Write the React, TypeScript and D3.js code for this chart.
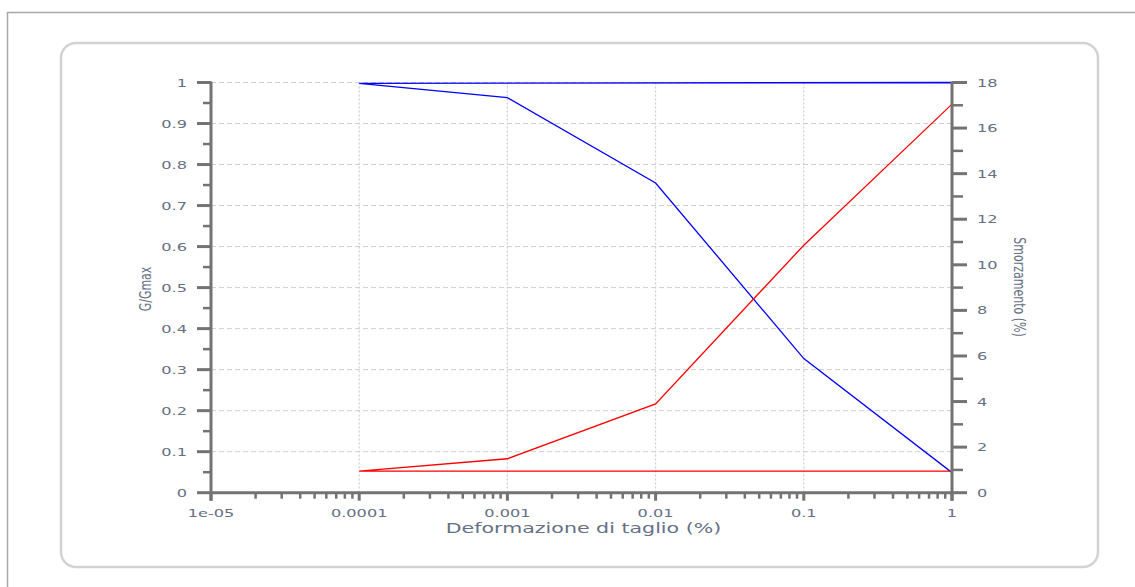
import React from "react";
import * as d3 from "d3";

const strain = [0.0001, 0.001, 0.01, 0.1, 1];
const gGmax = [0.998, 0.963, 0.755, 0.327, 0.049];
const damping = [0.95, 1.49, 3.9, 10.86, 17.05];
const gUpperAtEnd = 1;
const dampingLowerAtEnd = 0.95;

const xTickValues = [1e-5, 1e-4, 1e-3, 1e-2, 1e-1, 1];
const xTickLabels = ["1e-05", "0.0001", "0.001", "0.01", "0.1", "1"];
const leftTicks = [0, 0.1, 0.2, 0.3, 0.4, 0.5, 0.6, 0.7, 0.8, 0.9, 1];
const leftTickLabels = ["0", "0.1", "0.2", "0.3", "0.4", "0.5", "0.6", "0.7", "0.8", "0.9", "1"];
const rightTicks = [0, 2, 4, 6, 8, 10, 12, 14, 16, 18];

const W = 1135;
const H = 587;
const SX = 1.47;
const FONT = "'DejaVu Sans', Verdana, sans-serif";
const TXT = "#667085";
const AX = "#737373";

export default function App() {
  const x = d3.scaleLog().domain([1e-5, 1]).range([211, 952]);
  const yL = d3.scaleLinear().domain([0, 1]).range([492.7, 82.5]);
  const yR = d3.scaleLinear().domain([0, 18]).range([492.7, 82.5]);

  const minorX: number[] = [];
  for (let e = -5; e < 0; e++) {
    for (let m = 2; m <= 9; m++) minorX.push(m * Math.pow(10, e));
  }
  const minorL = d3.range(0, 1.0001, 0.05).filter((v) => Math.round(v * 100) % 10 !== 0);
  const minorR = d3.range(1, 18, 2);

  const blueLine = d3
    .line<[number, number]>()
    .x((d) => x(d[0]))
    .y((d) => yL(d[1]));
  const redLine = d3
    .line<[number, number]>()
    .x((d) => x(d[0]))
    .y((d) => yR(d[1]));

  const bluePts: [number, number][] = strain.map((s, i) => [s, gGmax[i]]);
  bluePts.push([strain[strain.length - 1], gUpperAtEnd]);
  const redPts: [number, number][] = strain.map((s, i) => [s, damping[i]]);
  redPts.push([strain[strain.length - 1], dampingLowerAtEnd]);
  redPts.push([strain[0], dampingLowerAtEnd]);

  const x0 = x(1e-5);
  const x1 = x(1);
  const yb = yL(0);
  const yt = yL(1);

  return (
    <svg
      width={W}
      height={H}
      style={{ position: "absolute", left: 0, top: 0, background: "#fff" }}
    >
      <rect x={7.5} y={12.5} width={1140} height={600} fill="#fff" stroke="#a9a9a9" strokeWidth={1.5} />
      <rect x={61} y={43} width={1037} height={524} rx={15} fill="#fff" stroke="#d2d2d2" strokeWidth={2.5} />

      {/* horizontal grid */}
      {leftTicks.slice(1).map((v) => (
        <line
          key={"gh" + v}
          x1={x0}
          x2={x1}
          y1={yL(v)}
          y2={yL(v)}
          stroke="#cfcfcf"
          strokeWidth={1}
          strokeDasharray="5,3"
        />
      ))}
      {/* vertical grid */}
      {xTickValues.slice(1, -1).map((v) => (
        <line
          key={"gv" + v}
          x1={x(v)}
          x2={x(v)}
          y1={yt}
          y2={yb}
          stroke="#cfcfcf"
          strokeWidth={1.2}
          strokeDasharray="2,2"
        />
      ))}

      {/* series */}
      <path d={(blueLine(bluePts) || "") + "Z"} fill="none" stroke="#0000ff" strokeWidth={1.3} />
      <path d={redLine(redPts) || ""} fill="none" stroke="#ff0000" strokeWidth={1.3} />

      {/* bottom axis */}
      <line x1={x0} x2={x1} y1={yb} y2={yb} stroke={AX} strokeWidth={3} />
      {minorX.map((v) => (
        <line key={"mx" + v} x1={x(v)} x2={x(v)} y1={yb} y2={yb + 6} stroke={AX} strokeWidth={2.5} />
      ))}
      {xTickValues.map((v, i) => (
        <g key={"tx" + v}>
          <line x1={x(v)} x2={x(v)} y1={yb} y2={yb + 8} stroke={AX} strokeWidth={3} />
          <text
            transform={`translate(${x(v)},517) scale(${SX},1)`}
            textAnchor="middle"
            fontFamily={FONT}
            fontSize={11}
            fill={TXT}
          >
            {xTickLabels[i]}
          </text>
        </g>
      ))}
      <text
        transform={`translate(${(x0 + x1) / 2 + 2},533) scale(${SX},1)`}
        textAnchor="middle"
        fontFamily={FONT}
        fontSize={14}
        fill={TXT}
      >
        Deformazione di taglio (%)
      </text>

      {/* left axis */}
      <line x1={x0} x2={x0} y1={yt - 1} y2={yb + 8} stroke={AX} strokeWidth={3} />
      {minorL.map((v) => (
        <line key={"ml" + v} x1={x0 - 8} x2={x0} y1={yL(v)} y2={yL(v)} stroke={AX} strokeWidth={2.5} />
      ))}
      {leftTicks.map((v, i) => (
        <g key={"tl" + v}>
          <line x1={x0 - 14} x2={x0} y1={yL(v)} y2={yL(v)} stroke={AX} strokeWidth={3} />
          <text
            transform={`translate(187,${yL(v) + 4}) scale(${SX},1)`}
            textAnchor="end"
            fontFamily={FONT}
            fontSize={11}
            fill={TXT}
          >
            {leftTickLabels[i]}
          </text>
        </g>
      ))}
      <text
        transform={`translate(151,289) scale(${SX},1) rotate(-90)`}
        textAnchor="middle"
        fontFamily={FONT}
        fontSize={11}
        fill={TXT}
      >
        G/Gmax
      </text>

      {/* right axis */}
      <line x1={x1} x2={x1} y1={yt - 1} y2={yb + 8} stroke={AX} strokeWidth={3} />
      {minorR.map((v) => (
        <line key={"mr" + v} x1={x1} x2={x1 + 11} y1={yR(v)} y2={yR(v)} stroke={AX} strokeWidth={2.5} />
      ))}
      {rightTicks.map((v) => (
        <g key={"tr" + v}>
          <line x1={x1} x2={x1 + 15} y1={yR(v)} y2={yR(v)} stroke={AX} strokeWidth={3} />
          <text
            transform={`translate(977,${yR(v) + 4}) scale(${SX},1)`}
            textAnchor="start"
            fontFamily={FONT}
            fontSize={11}
            fill={TXT}
          >
            {String(v)}
          </text>
        </g>
      ))}
      <text
        transform={`translate(1014,287) scale(${SX},1) rotate(90)`}
        textAnchor="middle"
        fontFamily={FONT}
        fontSize={11}
        fill={TXT}
      >
        Smorzamento (%)
      </text>
    </svg>
  );
}
